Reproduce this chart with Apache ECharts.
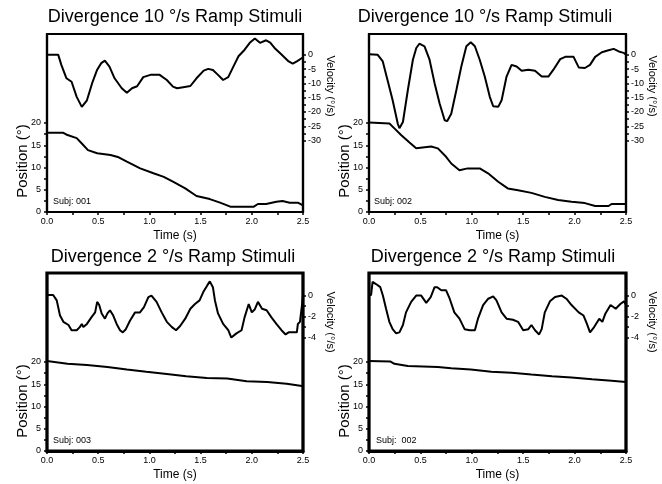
<!DOCTYPE html>
<html><head><meta charset="utf-8">
<script src="https://cdn.jsdelivr.net/npm/echarts@6/dist/echarts.min.js"></script>
<style>html,body{margin:0;padding:0;background:#fff}#c{width:662px;height:484px}</style>
</head><body><div id="c"></div>
<script>
// ---------- text ----------
const panelTitles = ['Divergence 10 °/s Ramp Stimuli','Divergence 10 °/s Ramp Stimuli','Divergence 2 °/s Ramp Stimuli','Divergence 2 °/s Ramp Stimuli'];
const subjects = ['Subj: 001','Subj: 002','Subj: 003','Subj:  002'];
const xName = 'Time (s)';
const posName = 'Position (°)';
const velName = 'Velocity (°/s)';

// ---------- ticks ----------
const posLabels = [0,5,10,15,20];
const posTicks = [0,2.5,5,7.5,10,12.5,15,17.5,20];
const velLabelsFast = [0,-5,-10,-15,-20,-25,-30];
const velTicksFast = [0,-2.5,-5,-7.5,-10,-12.5,-15,-17.5,-20,-22.5,-25,-27.5,-30];
const velLabelsSlow = [0,-2,-4];
const velTicksSlow = [0,-1,-2,-3,-4];

// ---------- panel 1 (Subj 001, 10 deg/s) ----------
const vel1T = [0,0.11,0.14,0.19,0.24,0.29,0.34,0.35,0.39,0.44,0.49,0.53,0.565,0.61,0.66,0.73,0.78,0.83,0.88,0.94,1.01,1.10,1.17,1.23,1.27,1.33,1.40,1.46,1.53,1.575,1.62,1.67,1.72,1.77,1.82,1.87,1.93,1.98,2.03,2.08,2.14,2.18,2.23,2.29,2.36,2.40,2.44,2.49,2.5];
const vel1  = [0,0,-3.5,-8.2,-9.4,-14.7,-18.2,-18.5,-15.9,-10,-5.2,-2.9,-2.0,-4.1,-8.2,-11.7,-13.3,-11.7,-11,-7.8,-7,-7,-8.8,-11.1,-11.7,-11.3,-10.9,-8.2,-5.5,-4.9,-5.3,-7,-8.8,-7.8,-4.1,-0.5,1.8,4.2,5.7,4.2,5.1,4.3,2.1,0.1,-2.3,-3.1,-2.3,-1.1,-1];
const pos1T = [0,0.16,0.2,0.29,0.34,0.40,0.49,0.62,0.70,0.78,0.91,1.04,1.14,1.23,1.35,1.46,1.59,1.69,1.79,2.02,2.06,2.14,2.24,2.30,2.37,2.45,2.49,2.5];
const pos1  = [17.8,17.8,17.3,16.6,15.4,13.9,13.2,12.8,12.3,11.3,9.8,8.7,7.9,6.8,5.3,3.6,2.9,2.1,1.2,1.2,1.8,1.8,2.3,2.45,2.1,2.1,1.6,1.6];

// ---------- panel 2 (Subj 002, 10 deg/s) ----------
const vel2T = [0,0.085,0.134,0.18,0.23,0.28,0.296,0.33,0.378,0.427,0.46,0.49,0.54,0.589,0.638,0.687,0.736,0.76,0.80,0.85,0.898,0.947,0.99,1.03,1.077,1.126,1.175,1.208,1.257,1.29,1.338,1.387,1.436,1.485,1.55,1.615,1.68,1.745,1.794,1.86,1.909,1.99,2.04,2.10,2.15,2.20,2.265,2.33,2.38,2.43,2.477,2.5];
const vel2  = [0.2,0,-2.3,-8.8,-15.9,-24.1,-25.7,-23.5,-12.3,-1.7,2.4,3.9,3.0,-1.7,-9.9,-17,-22.9,-23.2,-20.6,-12.3,-4.1,3.0,4.4,3.0,-1.7,-7.6,-14.7,-18,-18.2,-15.9,-7.6,-3.5,-4.1,-5.6,-5.2,-5.6,-7.6,-7.6,-5.2,-1.5,-0.7,-0.7,-4.4,-4.6,-3.5,-0.7,0.9,1.6,2.1,1.2,0.7,0];
const pos2T = [0,0.199,0.247,0.312,0.394,0.459,0.605,0.67,0.75,0.80,0.88,0.96,1.077,1.158,1.257,1.35,1.45,1.58,1.71,1.84,1.97,2.10,2.20,2.33,2.36,2.5];
const pos2  = [20.1,19.9,18.8,17.3,15.6,14.3,14.7,14.3,12.4,10.9,9.4,9.8,9.8,8.7,6.8,5.3,4.9,4.3,3.4,2.7,2.3,2.0,1.35,1.35,1.8,1.8];

// ---------- panel 3 (Subj 003, 2 deg/s) ----------
const vel3T = [0,0.06,0.095,0.127,0.16,0.21,0.24,0.29,0.32,0.34,0.355,0.39,0.435,0.47,0.49,0.51,0.534,0.566,0.59,0.615,0.647,0.68,0.713,0.74,0.77,0.81,0.86,0.908,0.947,0.99,1.02,1.07,1.12,1.17,1.22,1.26,1.30,1.35,1.40,1.445,1.49,1.526,1.565,1.59,1.62,1.64,1.67,1.72,1.77,1.80,1.85,1.90,1.93,1.97,2.0,2.03,2.06,2.10,2.145,2.19,2.24,2.29,2.33,2.36,2.44,2.45,2.47,2.49,2.5];
const vel3  = [0.05,0.05,-0.46,-1.9,-2.5,-2.8,-3.3,-3.3,-3.0,-2.7,-3.0,-2.7,-2.05,-1.6,-0.6,-0.9,-1.7,-2.2,-1.7,-1.4,-1.9,-2.7,-3.3,-3.5,-3.2,-2.4,-1.6,-1.6,-1.1,-0.14,0,-0.6,-1.6,-2.5,-3.0,-3.3,-2.9,-2.2,-1.25,-0.8,-0.46,0.33,0.97,1.35,0.8,-0.46,-1.7,-2.7,-3.3,-4.0,-3.6,-3.3,-2.05,-0.8,-1.6,-1.3,-0.6,-1.25,-1.4,-2.05,-2.7,-3.3,-3.7,-3.5,-3.5,-2.7,-2.5,-0.9,0];
const pos3T = [0,0.20,0.39,0.59,0.78,0.97,1.17,1.36,1.56,1.76,1.95,2.15,2.34,2.49,2.5];
const pos3  = [20.2,19.6,19.3,18.9,18.3,17.8,17.3,16.8,16.4,16.3,15.7,15.5,15.1,14.6,14.5];

// ---------- panel 4 (Subj 002, 2 deg/s) ----------
const vel4T = [0,0.02,0.035,0.068,0.11,0.135,0.166,0.198,0.23,0.264,0.296,0.33,0.36,0.41,0.459,0.508,0.557,0.6,0.638,0.664,0.703,0.75,0.785,0.83,0.88,0.93,0.98,1.03,1.06,1.11,1.16,1.208,1.24,1.29,1.338,1.40,1.45,1.50,1.55,1.58,1.615,1.655,1.68,1.71,1.76,1.81,1.875,1.92,1.97,2.04,2.087,2.12,2.15,2.19,2.24,2.27,2.30,2.35,2.40,2.445,2.48,2.5];
const vel4  = [0.05,0.05,1.3,1.1,0.8,0,-1.25,-2.5,-3.2,-3.6,-3.5,-2.8,-1.6,-0.6,0,0,-0.7,-0.14,0.8,0.8,0.5,0.5,-0.3,-1.6,-2.2,-3.2,-3.3,-3.3,-2.2,-0.9,-0.3,-0.08,-0.46,-1.6,-2.2,-2.3,-2.5,-3.3,-3.2,-2.8,-3.3,-3.7,-3.2,-1.6,-0.55,-0.14,0,-0.3,-0.9,-1.6,-1.9,-2.7,-3.5,-3.0,-2.2,-2.5,-1.7,-0.9,-1.25,-0.8,-0.55,-0.9];
const pos4T = [0,0.21,0.247,0.378,0.67,0.80,0.99,1.19,1.387,1.58,1.78,1.97,2.17,2.36,2.5];
const pos4  = [20.2,20.1,19.6,19.1,18.9,18.6,18.3,17.8,17.6,17.2,16.8,16.5,16.1,15.8,15.5];

// ---------- build ----------
const FONT = '"Liberation Sans", Arial, sans-serif';
const zip = (a, b) => a.map((t, i) => [t, b[i]]);
const velSets = [[vel1T,vel1],[vel2T,vel2],[vel3T,vel3],[vel4T,vel4]];
const posSets = [[pos1T,pos1],[pos2T,pos2],[pos3T,pos3],[pos4T,pos4]];

const gridRects = [
  {left:47, top:34, width:256, height:178},
  {left:369, top:34, width:257, height:178},
  {left:47, top:273, width:256, height:178},
  {left:369, top:273, width:257, height:178}
];
const grid = [], xAxis = [], yAxis = [], series = [], graphic = [];
const titleCenters = [[175,17],[485,17],[173,257],[493,257]];
const subjPos = [[53,202],[374,202],[53,441],[376,441]];
const posNamePos = [[23,161],[345,161],[23,401],[345,401]];
const velNamePos = [[330,86],[652,86],[330,322],[652,322]];

for (let i = 0; i < 4; i++) {
  const slow = i >= 2;
  const bw = slow ? 3.2 : 2.2;
  grid.push(Object.assign({show:true, borderColor:'#000', borderWidth:bw, backgroundColor:'transparent'}, gridRects[i]));
  xAxis.push({
    gridIndex:i, type:'value', min:0, max:2.5, interval:0.5,
    axisLine:{onZero:false, lineStyle:{color:'#000', width:bw}},
    axisTick:{show:true, length:3, lineStyle:{color:'#000', width:1.5}},
    minorTick:{show:true, splitNumber:2, length:3, lineStyle:{color:'#000', width:1.5}},
    splitLine:{show:false}, minorSplitLine:{show:false},
    axisLabel:{formatter:v => v.toFixed(1), fontSize:9, color:'#000', margin:5, fontFamily:FONT},
    name:xName, nameLocation:'middle', nameGap:18,
    nameTextStyle:{fontSize:12, color:'#000', fontFamily:FONT}
  });
  yAxis.push({
    gridIndex:i, type:'value', position:'left', min:0, max:40,
    axisLine:{show:true, onZero:false, lineStyle:{color:'#000', width:2.2}},
    axisTick:{show:true, length:3, customValues:posTicks, lineStyle:{color:'#000', width:1.5}},
    splitLine:{show:false},
    axisLabel:{customValues:posLabels, fontSize:9, color:'#000', margin:6, fontFamily:FONT}
  });
  yAxis.push({
    gridIndex:i, type:'value', position:'right',
    min: slow ? -14.8 : -55, max: slow ? 2.15 : 7.3,
    axisLine:{show:true, onZero:false, lineStyle:{color:'#000', width:2.2}},
    axisTick:{show:true, length:3, customValues: slow ? velTicksSlow : velTicksFast, lineStyle:{color:'#000', width:1.5}},
    splitLine:{show:false},
    axisLabel:{customValues: slow ? velLabelsSlow : velLabelsFast, fontSize:9, color:'#000', margin:5, fontFamily:FONT}
  });
  series.push({
    type:'line', xAxisIndex:i, yAxisIndex:2*i+1, data:zip(velSets[i][0], velSets[i][1]),
    showSymbol:false, symbol:'none', lineStyle:{color:'#000', width:2}, animation:false
  });
  series.push({
    type:'line', xAxisIndex:i, yAxisIndex:2*i, data:zip(posSets[i][0], posSets[i][1]),
    showSymbol:false, symbol:'none', lineStyle:{color:'#000', width:2}, animation:false
  });
  graphic.push({type:'text', x:titleCenters[i][0], y:titleCenters[i][1],
    style:{text:panelTitles[i], font:'18px '+FONT, fill:'#000', textAlign:'center', textVerticalAlign:'middle'}});
  graphic.push({type:'text', x:subjPos[i][0], y:subjPos[i][1],
    style:{text:subjects[i], font:'9px '+FONT, fill:'#000', textAlign:'left', textVerticalAlign:'middle'}});
  graphic.push({type:'text', x:posNamePos[i][0], y:posNamePos[i][1], rotation:Math.PI/2,
    style:{text:posName, font:'15px '+FONT, fill:'#000', textAlign:'center', textVerticalAlign:'middle'}});
  graphic.push({type:'text', x:velNamePos[i][0], y:velNamePos[i][1], rotation:-Math.PI/2,
    style:{text:velName, font:'11px '+FONT, fill:'#000', textAlign:'center', textVerticalAlign:'middle'}});
}

const chart = echarts.init(document.getElementById('c'), null, {renderer:'canvas'});
chart.setOption({animation:false, backgroundColor:'#fff', grid, xAxis, yAxis, series, graphic});
</script>
</body></html>
